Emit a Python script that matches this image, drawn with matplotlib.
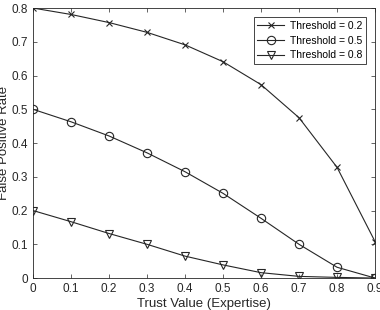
import numpy as np
import matplotlib
matplotlib.use('Agg')
from matplotlib import pyplot as plt

plt.rcParams['font.family'] = ['Liberation Sans', 'DejaVu Sans']

trust = [0, 0.1, 0.2, 0.3, 0.4, 0.5, 0.6, 0.7, 0.8, 0.9]
fpr_02 = [0.8, 0.781, 0.757, 0.728, 0.691, 0.641, 0.573, 0.475, 0.328, 0.108]
fpr_05 = [0.5, 0.463, 0.421, 0.371, 0.315, 0.251, 0.177, 0.1, 0.032, 0.0]
fpr_08 = [0.2, 0.167, 0.132, 0.1, 0.065, 0.039, 0.016, 0.005, 0.002, 0.0]
labels = ['Threshold = 0.2', 'Threshold = 0.5', 'Threshold = 0.8']

fig = plt.figure(figsize=(3.8, 3.1), dpi=100)
ax = fig.add_axes([0.087, 0.103, 0.9, 0.871])

c = '#262626'
ax.plot(trust, fpr_02, '-x', color=c, lw=0.8, ms=5, mew=0.8, label=labels[0])
ax.plot(trust, fpr_05, '-o', color=c, lw=0.8, ms=6, mew=0.8, mfc='none', label=labels[1])
ax.plot(trust, fpr_08, '-v', color=c, lw=0.8, ms=6, mew=0.8, mfc='none', label=labels[2])

ax.set_xlim(0, 0.9)
ax.set_ylim(0, 0.8)
ax.set_xticks(np.arange(0, 0.91, 0.1))
ax.set_xticklabels(['0', '0.1', '0.2', '0.3', '0.4', '0.5', '0.6', '0.7', '0.8', '0.9'])
ax.set_yticks(np.arange(0, 0.81, 0.1))
ax.set_yticklabels(['0', '0.1', '0.2', '0.3', '0.4', '0.5', '0.6', '0.7', '0.8'])
ax.tick_params(direction='in', top=True, right=True, labelsize=8.5, colors=c, length=3, width=0.5)
for s in ax.spines.values():
    s.set_color(c)
    s.set_linewidth(0.6)

ax.set_xlabel('Trust Value (Expertise)', fontsize=9.5, color=c, labelpad=2)
ax.set_ylabel('False Positive Rate', fontsize=9.5, color=c, labelpad=1)

leg = ax.legend(loc='upper right', fontsize=7.5, fancybox=False, edgecolor=c,
                framealpha=1, borderpad=0.35, labelspacing=0.45, handlelength=2.6,
                handletextpad=0.5, borderaxespad=0.9)
leg.get_frame().set_linewidth(0.6)

fig.savefig('out.png', dpi=100)
